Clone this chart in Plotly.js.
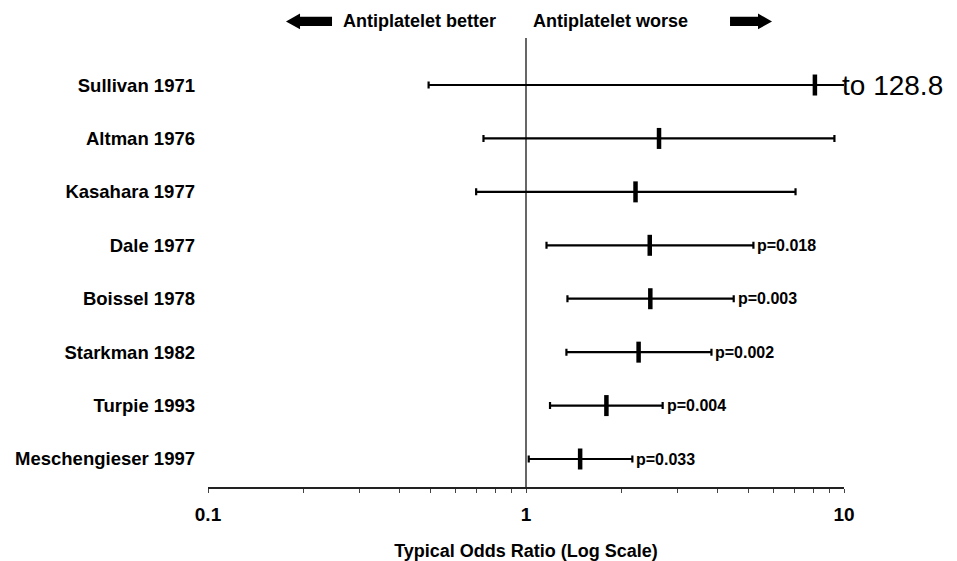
<!DOCTYPE html>
<html>
<head>
<meta charset="utf-8">
<script src="https://cdn.plot.ly/plotly-3.0.1.min.js"></script>
<style>html,body{margin:0;padding:0;background:#fff;}#chart{width:957px;height:561px;}</style>
</head>
<body>
<div id="chart"></div>
<script>
// ---- data ----
var studies = ['Sullivan 1971','Altman 1976','Kasahara 1977','Dale 1977','Boissel 1978','Starkman 1982','Turpie 1993','Meschengieser 1997'];
var oddsRatio = [8.1, 2.62, 2.21, 2.45, 2.46, 2.26, 1.79, 1.48];
var ciLower   = [0.494, 0.735, 0.697, 1.16, 1.35, 1.34, 1.19, 1.02];
var ciUpper   = [128.8, 9.33, 7.04, 5.19, 4.50, 3.83, 2.69, 2.16];
var pValues   = ['', '', '', 'p=0.018', 'p=0.003', 'p=0.002', 'p=0.004', 'p=0.033'];
var xTickVals = [0.1,0.2,0.3,0.4,0.5,0.6,0.7,0.8,0.9,1,2,3,4,5,6,7,8,9,10];
var xTickText = ['0.1','','','','','','','','','1','','','','','','','','','10'];
var headerLeft = 'Antiplatelet better';
var headerRight = 'Antiplatelet worse';
var xTitle = 'Typical Odds Ratio (Log Scale)';

var FONT = 'Liberation Sans, Arial, Helvetica, sans-serif';
var n = studies.length;
var rows = studies.map(function(_, i){ return n - i; });
var xMax = 10;

var plus = oddsRatio.map(function(v,i){ return ciUpper[i] - v; });
var minus = oddsRatio.map(function(v,i){ return v - ciLower[i]; });

var traces = [
  {
    type: 'scatter', mode: 'markers',
    x: oddsRatio, y: rows,
    marker: {symbol: 'line-ns', size: 15, color: 'black', line: {width: 4.5, color: 'black'}},
    error_x: {type: 'data', symmetric: false, array: plus, arrayminus: minus,
              color: 'black', thickness: 2.2, width: 3.5},
    hoverinfo: 'skip', showlegend: false
  }
];

// header arrows (paper coords)
var yc = 1.037, hh = 0.0175, bh = 0.0105;
function arrowPath(tip, base, tail){
  return 'M'+tip+','+yc+' L'+base+','+(yc+hh)+' L'+base+','+(yc+bh)+' L'+tail+','+(yc+bh)+
         ' L'+tail+','+(yc-bh)+' L'+base+','+(yc-bh)+' L'+base+','+(yc-hh)+' Z';
}

var annotations = [
  {xref:'paper', yref:'paper', x:0.3318, y:yc, xanchor:'center', yanchor:'middle', showarrow:false,
   text: headerLeft, font:{family:FONT, size:18, color:'black', weight:'bold'}},
  {xref:'paper', yref:'paper', x:0.633, y:yc, xanchor:'center', yanchor:'middle', showarrow:false,
   text: headerRight, font:{family:FONT, size:18, color:'black', weight:'bold'}}
];
ciUpper.forEach(function(v,i){
  if (v > xMax) {
    annotations.push({xref:'paper', yref:'y', x:1, y:rows[i], xanchor:'left', yanchor:'middle',
      showarrow:false, xshift:-4, text:'to ' + v, font:{family:FONT, size:28, color:'black'}});
  } else if (pValues[i]) {
    annotations.push({xref:'x', yref:'y', x:Math.log10(v), y:rows[i], xanchor:'left', yanchor:'middle',
      showarrow:false, xshift:2, text:pValues[i], font:{family:FONT, size:16, color:'black', weight:'bold'}});
  }
});

var layout = {
  width: 957, height: 561,
  margin: {l: 208, r: 113, t: 38, b: 74, pad: 0},
  paper_bgcolor: 'white', plot_bgcolor: 'white',
  font: {family: FONT, color: 'black'},
  showlegend: false,
  xaxis: {
    type: 'log', range: [-1, 1],
    tickvals: xTickVals, ticktext: xTickText,
    ticks: 'outside', ticklen: 4, tickwidth: 1, tickcolor: '#444',
    showline: true, linecolor: '#222', linewidth: 1.5,
    showgrid: false, zeroline: false,
    ticklabelstandoff: 6,
    tickfont: {family: FONT, size: 19, color: 'black', weight: 'bold'},
    title: {text: xTitle, font: {family: FONT, size: 18, color: 'black', weight: 'bold'}, standoff: 24}
  },
  yaxis: {
    range: [0.476, 8.88],
    tickvals: rows, ticktext: studies,
    ticks: '', showline: false, showgrid: false, zeroline: false,
    tickfont: {family: FONT, size: 18.5, color: 'black', weight: 'bold'},
    ticklabelstandoff: 12
  },
  shapes: [
    {type:'line', xref:'paper', yref:'paper', x0:0.5, x1:0.5, y0:0, y1:1, line:{color:'black', width:1.2}},
    {type:'path', xref:'paper', yref:'paper', path: arrowPath(0.1226, 0.1447, 0.1950), fillcolor:'black', line:{width:0}},
    {type:'path', xref:'paper', yref:'paper', path: arrowPath(0.8868, 0.8648, 0.8208), fillcolor:'black', line:{width:0}}
  ],
  annotations: annotations
};

Plotly.newPlot('chart', traces, layout, {displayModeBar: false, staticPlot: true});
</script>
</body>
</html>
